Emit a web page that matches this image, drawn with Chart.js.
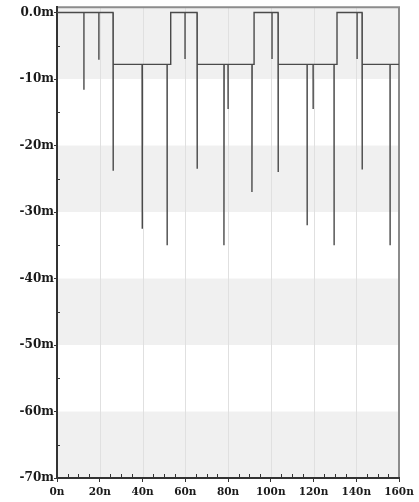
<!DOCTYPE html>
<html>
<head>
<meta charset="utf-8">
<script src="https://cdn.jsdelivr.net/npm/chart.js@4.4.1/dist/chart.umd.min.js"></script>
<style>
  html, body { margin: 0; padding: 0; background: #fff; }
  canvas { display: block; }
</style>
</head>
<body>
<canvas id="scope" width="419" height="502"></canvas>
<script>
// waveform: time in ns, level in mV
const timeNs = [
    0,
    12.6, 12.6, 12.6,
    19.6, 19.6, 19.6,
    26.2, 26.2, 26.4,
    39.8, 39.8, 40.0,
    51.5, 51.5, 51.6,
    53.2, 53.2,
    59.9, 59.9, 59.9,
    65.5, 65.5, 65.7,
    78.1, 78.1, 78.2,
    80.0, 80.0, 80.1,
    91.2, 91.2, 91.3,
    92.2, 92.2,
    100.6, 100.6, 100.6,
    103.4, 103.4, 103.6,
    117.0, 117.0, 117.1,
    119.8, 119.8, 119.9,
    129.6, 129.6, 129.7,
    131.0, 131.0,
    140.4, 140.4, 140.4,
    142.7, 142.7, 142.9,
    155.8, 155.8, 155.9,
    160
];
const voltMv = [
    0,
    0, -11.6, 0,
    0, -7.1, 0,
    0, -23.8, -7.8,
    -7.8, -32.5, -7.8,
    -7.8, -35, -7.8,
    -7.8, 0,
    0, -7, 0,
    0, -23.5, -7.8,
    -7.8, -35, -7.8,
    -7.8, -14.5, -7.8,
    -7.8, -27, -7.8,
    -7.8, 0,
    0, -7, 0,
    0, -24, -7.8,
    -7.8, -32, -7.8,
    -7.8, -14.5, -7.8,
    -7.8, -35, -7.8,
    -7.8, 0,
    0, -7, 0,
    0, -23.6, -7.8,
    -7.8, -35, -7.8,
    -7.8
];
const xTicks = [0, 20, 40, 60, 80, 100, 120, 140, 160];
const yTicks = [0, -10, -20, -30, -40, -50, -60, -70];
const shadedBands = [[0.8, -10], [-20, -30], [-40, -50], [-60, -70]];

const yFont = { family: "'DejaVu Serif', 'Liberation Serif', serif", size: 12, weight: 'bold' };
const xFont = { family: "'DejaVu Serif', 'Liberation Serif', serif", size: 10.5, weight: 'bold' };

const scopeDecor = {
    id: 'scopeDecor',
    beforeDraw(chart) {
        const { ctx, chartArea: a, scales: { x, y } } = chart;
        ctx.save();
        ctx.fillStyle = '#f0f0f0';
        shadedBands.forEach(([hi, lo]) => {
            const y1 = y.getPixelForValue(hi), y2 = y.getPixelForValue(lo);
            ctx.fillRect(a.left, y1, a.right - a.left, y2 - y1);
        });
        ctx.strokeStyle = '#e0e0e0';
        ctx.lineWidth = 1;
        xTicks.slice(1, -1).forEach(t => {
            const px = Math.round(x.getPixelForValue(t)) + 0.5;
            ctx.beginPath();
            ctx.moveTo(px, a.top);
            ctx.lineTo(px, a.bottom);
            ctx.stroke();
        });
        // grey frame top and right
        ctx.strokeStyle = '#8c8c8c';
        ctx.lineWidth = 2;
        ctx.beginPath();
        ctx.moveTo(a.left, a.top);
        ctx.lineTo(a.right, a.top);
        ctx.lineTo(a.right, a.bottom);
        ctx.stroke();
        ctx.restore();
    },
    afterDraw(chart) {
        const { ctx, chartArea: a, scales: { x, y } } = chart;
        ctx.save();
        // minor ticks, pointing inwards
        ctx.strokeStyle = '#333';
        ctx.lineWidth = 1;
        for (let v = -65; v < 0; v += 10) {
            const py = Math.round(y.getPixelForValue(v)) + 0.5;
            ctx.beginPath();
            ctx.moveTo(a.left, py);
            ctx.lineTo(a.left + 3, py);
            ctx.stroke();
        }
        for (let t = 5; t < 160; t += 5) {
            if (t % 20 === 0) continue;
            const px = Math.round(x.getPixelForValue(t)) + 0.5;
            ctx.beginPath();
            ctx.moveTo(px, a.bottom);
            ctx.lineTo(px, a.bottom - 4);
            ctx.stroke();
        }
        ctx.restore();
    }
};

new Chart(document.getElementById('scope'), {
    type: 'line',
    data: {
        datasets: [{
            data: timeNs.map((t, i) => ({ x: t, y: voltMv[i] })),
            borderColor: '#4a4a4a',
            borderWidth: 1.4,
            pointRadius: 0,
            tension: 0,
            fill: false
        }]
    },
    options: {
        responsive: false,
        animation: false,
        layout: { padding: { top: 7, right: 20, left: 0, bottom: 0 } },
        plugins: { legend: { display: false }, tooltip: { enabled: false } },
        scales: {
            x: {
                type: 'linear',
                min: 0,
                max: 160,
                afterFit: s => { s.height = 24; },
                afterBuildTicks: s => { s.ticks = xTicks.map(v => ({ value: v })); },
                ticks: {
                    font: xFont,
                    color: '#1a1a1a',
                    padding: 4,
                    maxRotation: 0,
                    callback: v => v + 'n'
                },
                grid: { drawOnChartArea: false, tickLength: 4, tickColor: '#333' },
                border: { color: '#333', width: 2 }
            },
            y: {
                min: -70,
                max: 0.8,
                afterFit: s => { s.width = 57; },
                afterBuildTicks: s => { s.ticks = yTicks.map(v => ({ value: v })); },
                ticks: {
                    font: yFont,
                    color: '#1a1a1a',
                    padding: 0,
                    callback: v => v === 0 ? '0.0m' : v + 'm'
                },
                grid: { drawOnChartArea: false, tickLength: 3, tickColor: '#333' },
                border: { color: '#333', width: 2 }
            }
        }
    },
    plugins: [scopeDecor]
});
</script>
</body>
</html>
